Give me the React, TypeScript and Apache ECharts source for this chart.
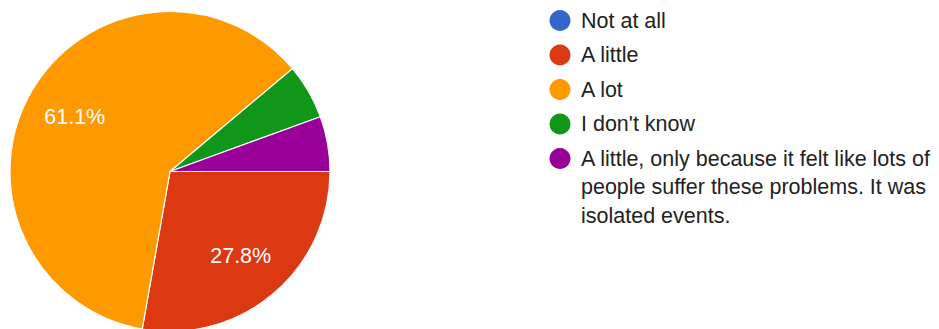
import React, { useEffect, useRef } from "react";
import * as echarts from "echarts";

const categories = [
  "Not at all",
  "A little",
  "A lot",
  "I don't know",
  "A little, only because it felt like lots of people suffer these problems. It was isolated events.",
];
const legendLines = [
  ["Not at all"],
  ["A little"],
  ["A lot"],
  ["I don't know"],
  ["A little, only because it felt like lots of", "people suffer these problems. It was", "isolated events."],
];
const counts = [0, 5, 11, 1, 1];
const colors = ["#3366cc", "#dc3912", "#ff9900", "#109618", "#990099"];

const FONT = "'Liberation Sans', Arial, Helvetica, sans-serif";

export default function App() {
  const ref = useRef<HTMLDivElement>(null);
  useEffect(() => {
    if (!ref.current) return;
    const chart = echarts.init(ref.current, null, { renderer: "svg" });
    const data = categories.map((name, i) => ({
      name,
      value: counts[i],
      itemStyle: { color: colors[i] },
    }));

    const legendGraphics: any[] = [];
    const itemTop = 20.5;
    const itemGap = 34.5;
    const lineH = 28.5;
    legendLines.forEach((lines, i) => {
      const cy = itemTop + i * itemGap;
      legendGraphics.push({
        type: "circle",
        shape: { cx: 560, cy, r: 10.5 },
        style: { fill: colors[i] },
        silent: true,
      });
      legendGraphics.push({
        type: "text",
        x: 581,
        y: cy - lineH / 2,
        style: {
          text: lines.join("\n"),
          fill: "#222222",
          font: `21.5px ${FONT}`,
          fontSize: 21.5,
          fontFamily: FONT,
          lineHeight: lineH,
          verticalAlign: "top",
          align: "left",
        },
        silent: true,
      });
    });

    chart.setOption({
      animation: false,
      backgroundColor: "#ffffff",
      graphic: legendGraphics,
      series: [
        {
          type: "pie",
          center: [170, 171.5],
          radius: [0, 160],
          startAngle: 0,
          clockwise: true,
          silent: true,
          data,
          label: { show: false },
          labelLine: { show: false },
          itemStyle: { borderColor: "#ffffff", borderWidth: 1.2 },
          emphasis: { disabled: true },
        },
        {
          type: "pie",
          center: [170, 171.5],
          radius: [54, 160],
          startAngle: 0,
          clockwise: true,
          silent: true,
          percentPrecision: 1,
          data: data.map((d) => ({ name: d.name, value: d.value })),
          itemStyle: { color: "rgba(0,0,0,0)", borderWidth: 0 },
          labelLine: { show: false },
          label: {
            show: true,
            position: "inside",
            color: "#ffffff",
            fontSize: 21.5,
            fontFamily: FONT,
            formatter: (p: any) => (p.percent >= 10 ? `${p.percent.toFixed(1)}%` : ""),
          },
          emphasis: { disabled: true },
        },
      ],
    });
    return () => chart.dispose();
  }, []);
  return (
    <div
      ref={ref}
      style={{ position: "absolute", left: 0, top: 0, width: 939, height: 329 }}
    />
  );
}
